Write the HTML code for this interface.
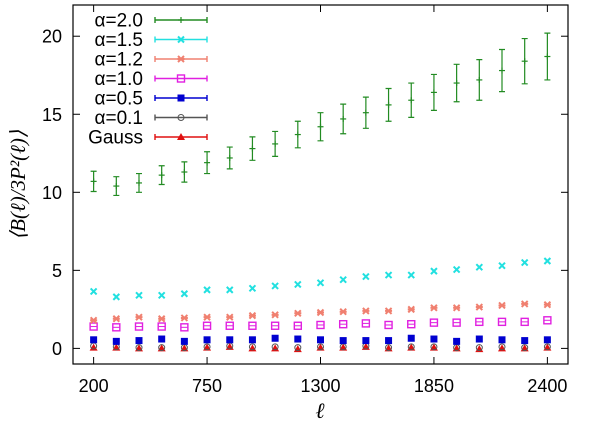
<!DOCTYPE html>
<html><head><meta charset="utf-8"><style>
html,body{margin:0;padding:0;background:#fff;}
svg{display:block;font-family:"Liberation Sans",sans-serif;}
</style></head><body>
<svg id="c" width="600" height="422"></svg>
<script>
const xs = [200,310,420,530,640,750,860,970,1080,1190,1300,1410,1520,1630,1740,1850,1960,2070,2180,2290,2400];
const a20 = [10.7,10.4,10.6,11.1,11.3,11.9,12.2,12.8,13.1,13.7,14.2,14.7,15.1,15.6,15.9,16.4,17.0,17.2,17.8,18.4,18.7];
const a20err = [0.65,0.6,0.6,0.6,0.65,0.7,0.7,0.75,0.8,0.85,0.9,0.95,1.0,1.05,1.1,1.15,1.2,1.3,1.35,1.45,1.5];
const a15 = [3.65,3.3,3.4,3.4,3.5,3.75,3.75,3.85,4.0,4.1,4.2,4.4,4.6,4.7,4.7,4.95,5.05,5.2,5.3,5.5,5.6];
const a12 = [1.8,1.9,2.0,1.9,1.95,2.0,2.0,2.1,2.15,2.25,2.3,2.35,2.4,2.4,2.5,2.6,2.6,2.65,2.75,2.85,2.8];
const a10 = [1.4,1.35,1.4,1.4,1.35,1.45,1.45,1.45,1.45,1.45,1.5,1.55,1.6,1.5,1.55,1.65,1.65,1.7,1.7,1.7,1.8];
const a05 = [0.55,0.45,0.5,0.6,0.45,0.55,0.55,0.55,0.65,0.6,0.55,0.5,0.5,0.5,0.65,0.6,0.45,0.6,0.55,0.5,0.55];
const a01 = [0.15,0.1,0.05,0.05,0.05,0.1,0.15,0.1,0.1,0.05,0.1,0.1,0.15,0.05,0.1,0.1,0.05,0.05,0.1,0.05,0.1];
const gauss = [0.05,0.05,0.0,0.0,0.0,0.05,0.1,0.0,0.0,-0.05,0.05,0.05,0.1,0.0,0.05,0.05,0.0,-0.05,0.0,0.0,0.05];
const xTicks = [200,750,1300,1850,2400];
const yTicks = [0,5,10,15,20];

const L=73,R=568,T=5,B=364,X0=100,X1=2500,Y0=-1,Y1=22;
const sx=v=>L+(v-X0)/(X1-X0)*(R-L);
const sy=v=>B-(v-Y0)/(Y1-Y0)*(B-T);
const svg=document.getElementById('c');
const NS='http://www.w3.org/2000/svg';
function mk(t,at,p){const e=document.createElementNS(NS,t);for(const k in at)e.setAttribute(k,at[k]);(p||svg).appendChild(e);return e;}

const frame=mk('rect',{x:L,y:T,width:R-L,height:B-T,fill:'none',stroke:'#000','stroke-width':1.2});



xTicks.forEach(v=>{
  const x=sx(v);
  mk('line',{x1:x,x2:x,y1:B,y2:B-7,stroke:'#000'});
  mk('line',{x1:x,x2:x,y1:T,y2:T+7,stroke:'#000'});
  const t=mk('text',{x:x,y:392,'text-anchor':'middle','font-size':18});
  t.textContent=v;
  
  
});
yTicks.forEach(v=>{
  const y=sy(v);
  mk('line',{x1:L,x2:L+7,y1:y,y2:y,stroke:'#000'});
  mk('line',{x1:R,x2:R-7,y1:y,y2:y,stroke:'#000'});
  const t=mk('text',{x:62,y:y+6.5,'text-anchor':'end','font-size':18});
  t.textContent=v;
  
  
});
const xl=mk('text',{x:320,y:418,'text-anchor':'middle','font-size':22,'font-style':'italic','font-family':'Liberation Serif,serif'});
xl.textContent='ℓ';


const yl=mk('text',{x:0,y:0,'text-anchor':'middle','font-size':21,'font-style':'italic','font-family':'Liberation Serif,serif',transform:'translate(25,185) rotate(-90)'});
yl.textContent='⟨B(ℓ)/3P²(ℓ)⟩';



function marker(kind,x,y,c,g){
  if(kind==='plus'){mk('line',{x1:x-3,x2:x+3,y1:y,y2:y,stroke:c,'stroke-width':1.2},g);mk('line',{x1:x,x2:x,y1:y-3,y2:y+3,stroke:c,'stroke-width':1.2},g);}
  else if(kind==='x'){mk('path',{d:`M${x-3},${y-3}L${x+3},${y+3}M${x-3},${y+3}L${x+3},${y-3}`,stroke:c,'stroke-width':2},g);}
  else if(kind==='star'){mk('path',{d:`M${x-3},${y-3}L${x+3},${y+3}M${x-3},${y+3}L${x+3},${y-3}M${x-3.5},${y}H${x+3.5}`,stroke:c,'stroke-width':2},g);}
  else if(kind==='osq'){mk('rect',{x:x-3.5,y:y-3.5,width:7,height:7,fill:'none',stroke:c,'stroke-width':1.4},g);mk('line',{x1:x-3,x2:x+3,y1:y,y2:y,stroke:c},g);}
  else if(kind==='sq'){mk('rect',{x:x-3.5,y:y-3.5,width:7,height:7,fill:c},g);}
  else if(kind==='oc'){mk('circle',{cx:x,cy:y,r:3,fill:'none',stroke:c,'stroke-width':1},g);}
  else if(kind==='tri'){mk('path',{d:`M${x},${y-4}L${x+4},${y+3}L${x-4},${y+3}Z`,fill:c},g);}
}
const series=[
 ['α=2.0',a20,'#228b22','plus',a20err],
 ['α=1.5',a15,'#22e0e0','x',null],
 ['α=1.2',a12,'#f08070','star',null],
 ['α=1.0',a10,'#e020e0','osq',null],
 ['α=0.5',a05,'#0000d0','sq',null],
 ['α=0.1',a01,'#555555','oc',null],
 ['Gauss',gauss,'#e01010','tri',null]
];
series.slice().reverse().forEach(s=>{
  const g=mk('g',{});
  
  
  s[1].forEach((v,i)=>{
    const x=sx(xs[i]),y=sy(v);
    if(s[4]){const e=s[4][i];const y1=sy(v+e),y2=sy(v-e);
      mk('path',{d:`M${x},${y1}V${y2}M${x-3},${y1}H${x+3}M${x-3},${y2}H${x+3}`,stroke:s[2],'stroke-width':1.2,fill:'none'},g);}
    marker(s[3],x,y,s[2],g);
  });
});
series.forEach((s,i)=>{
  const y=20+i*19.5;
  const g=mk('g',{});
  
  
  const t=mk('text',{x:143,y:y+6.5,'text-anchor':'end','font-size':19},g);t.textContent=s[0];
  mk('path',{d:`M155,${y}H207M155,${y-3}V${y+3}M207,${y-3}V${y+3}`,stroke:s[2],'stroke-width':1.4,fill:'none'},g);
  marker(s[3],181,y,s[2],g);
});
</script>
</body></html>
